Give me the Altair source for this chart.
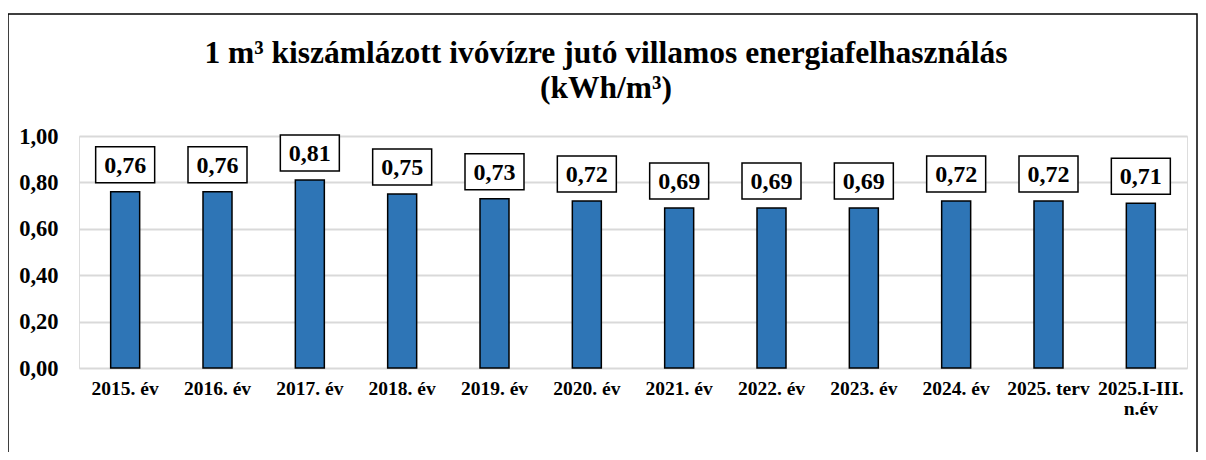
import altair as alt
import pandas as pd

categories = ["2015. év", "2016. év", "2017. év", "2018. év", "2019. év", "2020. év",
              "2021. év", "2022. év", "2023. év", "2024. év", "2025. terv", "2025.I-III.\nn.év"]
values = [0.76, 0.76, 0.81, 0.75, 0.73, 0.72, 0.69, 0.69, 0.69, 0.72, 0.72, 0.71]
title_line1 = "1 m³ kiszámlázott ivóvízre jutó villamos energiafelhasználás"
title_line2 = "(kWh/m³)"
y_ticks = [0, 0.2, 0.4, 0.6, 0.8, 1.0]

FONT = "Liberation Serif"
W, H = 1108, 232

df = pd.DataFrame({"cat": categories, "val": values})

base = alt.Chart(df).encode(
    x=alt.X("cat:N", sort=categories, title=None,
            scale=alt.Scale(paddingInner=0.0, paddingOuter=0.0),
            axis=alt.Axis(labelAngle=0, labelFont=FONT, labelFontSize=19.5, labelFontWeight="bold",
                          labelColor="black", labelPadding=11, ticks=False, domain=False,
                          labelBaseline="top", labelLineHeight=20,
                          labelExpr="split(datum.label, '\\n')")),
)

bars = base.mark_bar(size=29, color="#2E75B6", stroke="black", strokeWidth=1.5).encode(
    y=alt.Y("val:Q", title=None,
            scale=alt.Scale(domain=[0, 1.0], nice=False),
            axis=alt.Axis(values=y_ticks, labelFont=FONT, labelFontSize=22.5, labelFontWeight="bold",
                          labelColor="black", labelPadding=21, ticks=False, domain=False,
                          grid=True, gridColor="#D9D9D9", gridWidth=2,
                          labelExpr="replace(format(datum.value, '.2f'), '.', ',')")),
)

boxes = base.mark_point(
    shape="M-1,-0.61H1V0.61H-1Z", size=59 * 59, filled=True, fill="white",
    stroke="black", strokeWidth=1.5, opacity=1, yOffset=-27,
).encode(y="val:Q")

labels = base.transform_calculate(
    lab="replace(format(datum.val, '.2f'), '.', ',')"
).mark_text(font=FONT, fontSize=24, fontWeight="bold", color="black",
            baseline="middle", dy=-26).encode(y="val:Q", text="lab:N")

one = pd.DataFrame({"a": [0]})
title1 = alt.Chart(one).mark_text(font=FONT, fontSize=31.5, fontWeight="bold", color="black",
                                  baseline="alphabetic", align="center").encode(
    text=alt.value(title_line1), x=alt.value(527), y=alt.value(-73))
title2 = alt.Chart(one).mark_text(font=FONT, fontSize=31.5, fontWeight="bold", color="black",
                                  baseline="alphabetic", align="center").encode(
    text=alt.value(title_line2), x=alt.value(527), y=alt.value(-38))

frame = alt.Chart(one).mark_rect(
    fill=None, stroke="black", strokeWidth=1.5
).encode(x=alt.value(-71), x2=alt.value(1118), y=alt.value(-122), y2=alt.value(400))

chart = alt.layer(bars, boxes, labels, title1, title2, frame).properties(
    width=W, height=H,
    autosize=alt.AutoSizeParams(type="none"),
    padding={"left": 71, "top": 128, "right": 11, "bottom": 84},
).configure_view(stroke=None).configure(background="white", font=FONT)

chart.save("out.html", embed_options={"renderer": "svg", "actions": False})
